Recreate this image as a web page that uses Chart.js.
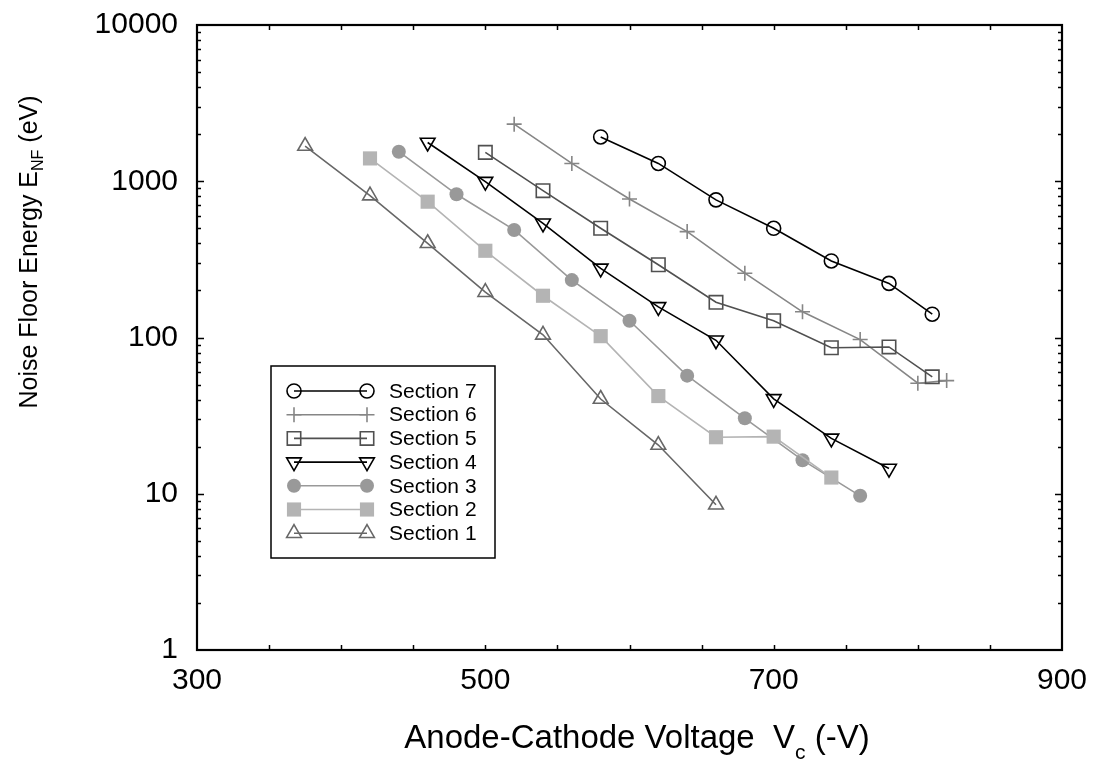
<!DOCTYPE html>
<html>
<head>
<meta charset="utf-8">
<script src="https://cdn.jsdelivr.net/npm/chart.js@4/dist/chart.umd.min.js"></script>
<style>
  html, body { margin: 0; padding: 0; background: #fff; }
  canvas { display: block; }
</style>
</head>
<body>
<canvas id="noiseChart" width="1096" height="771"></canvas>
<script>
// values (voltage in -V, energy in eV)
const sectionNames = ['Section 7', 'Section 6', 'Section 5', 'Section 4', 'Section 3', 'Section 2', 'Section 1'];

const s7Volt = [580, 620, 660, 700, 740, 780, 810];
const s7Energy = [1920, 1300, 760, 500, 309, 222, 141];

const s6Volt = [520, 560, 600, 640, 680, 720, 760, 800, 820];
const s6Energy = [2320, 1300, 770, 476, 258, 146, 97, 51, 53];

const s5Volt = [500, 540, 580, 620, 660, 700, 740, 780, 810];
const s5Energy = [1530, 870, 500, 292, 168, 128, 86, 87, 56];

const s4Volt = [460, 500, 540, 580, 620, 660, 700, 740, 780];
const s4Energy = [1770, 995, 538, 277, 157, 96, 40.5, 22.6, 14.5];

const s3Volt = [440, 480, 520, 560, 600, 640, 680, 720, 760];
const s3Energy = [1545, 825, 488, 233, 128, 57, 30.4, 16.4, 9.7];

const s2Volt = [420, 460, 500, 540, 580, 620, 660, 700, 740];
const s2Energy = [1400, 740, 359, 185, 102, 42.2, 23, 23.2, 12.7];

const s1Volt = [375, 420, 460, 500, 540, 580, 620, 660];
const s1Energy = [1680, 809, 401, 195, 104, 40.4, 20.5, 8.5];

const xTickLabels = [300, 500, 700, 900];
const yTickLabels = [1, 10, 100, 1000, 10000];

const FONT = 'Liberation Sans, Arial, Helvetica, sans-serif';

function pts(xs, ys) {
    return xs.map((x, i) => ({ x: x, y: ys[i] }));
}

function makeSet(label, xs, ys, color, style, radius, filled, rotation) {
    return {
        label: label,
        data: pts(xs, ys),
        borderColor: color,
        backgroundColor: filled ? color : 'rgba(0,0,0,0)',
        pointBorderColor: color,
        pointBackgroundColor: filled ? color : 'rgba(0,0,0,0)',
        pointStyle: style,
        pointRadius: radius,
        pointHoverRadius: radius,
        pointRotation: rotation || 0,
        pointBorderWidth: filled ? 0 : 1.6,
        borderWidth: 1.6,
        tension: 0,
        fill: false
    };
}

const datasets = [
    makeSet(sectionNames[6], s1Volt, s1Energy, '#676767', 'triangle', 8.5, false),
    makeSet(sectionNames[5], s2Volt, s2Energy, '#b4b4b4', 'rect', 10, true),
    makeSet(sectionNames[4], s3Volt, s3Energy, '#999999', 'circle', 7, true),
    makeSet(sectionNames[3], s4Volt, s4Energy, '#000000', 'triangle', 8.5, false, 180),
    makeSet(sectionNames[2], s5Volt, s5Energy, '#505050', 'rect', 9.5, false),
    makeSet(sectionNames[1], s6Volt, s6Energy, '#868686', 'cross', 7.5, false),
    makeSet(sectionNames[0], s7Volt, s7Energy, '#000000', 'circle', 7, false)
];

function drawMarker(ctx, ds, x, y) {
    const opts = {
        pointStyle: ds.pointStyle,
        radius: ds.pointRadius,
        rotation: ds.pointRotation,
        borderWidth: ds.pointBorderWidth
    };
    ctx.save();
    ctx.strokeStyle = ds.pointBorderColor;
    ctx.fillStyle = ds.pointBackgroundColor;
    ctx.lineWidth = ds.pointBorderWidth;
    Chart.helpers.drawPoint(ctx, opts, x, y);
    ctx.restore();
}

// draws text pieces in a row; [text, font, dy]
function drawParts(ctx, parts, startX, baseY) {
    let cx = startX;
    parts.forEach(p => {
        ctx.font = p[1];
        ctx.fillText(p[0], cx, baseY + p[2]);
        cx += ctx.measureText(p[0]).width;
    });
}

function partsWidth(ctx, parts) {
    let total = 0;
    parts.forEach(p => { ctx.font = p[1]; total += ctx.measureText(p[0]).width; });
    return total;
}

// frame, inward ticks, axis titles and legend box
const framePlugin = {
    id: 'framePlugin',
    afterDraw(chart) {
        const ctx = chart.ctx;
        const a = chart.chartArea;
        const xs = chart.scales.x;
        const ys = chart.scales.y;
        ctx.save();
        ctx.strokeStyle = '#000';
        ctx.lineWidth = 1.5;
        // tick marks
        ctx.beginPath();
        for (let v = 350; v < 900; v += 50) {
            const px = Math.round(xs.getPixelForValue(v)) + 0.5;
            ctx.moveTo(px, a.bottom); ctx.lineTo(px, a.bottom - 5);
            ctx.moveTo(px, a.top); ctx.lineTo(px, a.top + 5);
        }
        for (let d = 1; d < 10000; d *= 10) {
            for (let m = 1; m < 10; m++) {
                const v = d * m;
                if (v === 1) continue;
                const py = Math.round(ys.getPixelForValue(v)) + 0.5;
                const len = m === 1 ? 7 : 4;
                ctx.moveTo(a.left, py); ctx.lineTo(a.left + len, py);
                ctx.moveTo(a.right, py); ctx.lineTo(a.right - len, py);
            }
        }
        ctx.stroke();
        ctx.lineWidth = 2.2;
        ctx.strokeRect(a.left, a.top, a.right - a.left, a.bottom - a.top);

        // y title with subscript
        ctx.fillStyle = '#000';
        ctx.textBaseline = 'alphabetic';
        ctx.save();
        ctx.translate(37, 252);
        ctx.rotate(-Math.PI / 2);
        const yParts = [['Noise Floor Energy E', '25px ' + FONT, 0], ['NF', '16px ' + FONT, 6], [' (eV)', '25px ' + FONT, 0]];
        drawParts(ctx, yParts, -partsWidth(ctx, yParts) / 2, 0);
        ctx.restore();

        // x title with subscript
        const xParts = [['Anode-Cathode Voltage  V', '33px ' + FONT, 0], ['c', '21px ' + FONT, 11], [' (-V)', '33px ' + FONT, 0]];
        drawParts(ctx, xParts, 637 - partsWidth(ctx, xParts) / 2, 748);

        // legend
        ctx.lineWidth = 1.5;
        ctx.strokeStyle = '#000';
        ctx.fillStyle = '#fff';
        ctx.fillRect(271, 366, 224, 192);
        ctx.strokeRect(271, 366, 224, 192);
        const ordered = datasets.slice().reverse();
        ordered.forEach((ds, i) => {
            const ry = 391 + i * 23.7;
            ctx.save();
            ctx.strokeStyle = ds.borderColor;
            ctx.lineWidth = ds.borderWidth;
            ctx.beginPath();
            ctx.moveTo(294, ry); ctx.lineTo(367, ry);
            ctx.stroke();
            ctx.restore();
            drawMarker(ctx, ds, 294, ry);
            drawMarker(ctx, ds, 367, ry);
            ctx.fillStyle = '#000';
            ctx.font = '21px ' + FONT;
            ctx.textBaseline = 'middle';
            ctx.fillText(ds.label, 389, ry + 1);
        });
        ctx.restore();
    }
};

const ctx = document.getElementById('noiseChart').getContext('2d');
new Chart(ctx, {
    type: 'line',
    data: { datasets: datasets },
    options: {
        responsive: false,
        animation: false,
        devicePixelRatio: 1,
        layout: { padding: { left: 0, top: 25, right: 34, bottom: 0 } },
        plugins: {
            legend: { display: false },
            tooltip: { enabled: false },
            title: { display: false }
        },
        scales: {
            x: {
                type: 'linear',
                min: 300,
                max: 900,
                grid: { display: false },
                border: { display: false },
                afterBuildTicks: scale => { scale.ticks = xTickLabels.map(v => ({ value: v })); },
                afterFit: scale => {
                    scale.height = 121;
                    scale.paddingLeft = 0;
                    scale.paddingRight = 0;
                },
                ticks: {
                    color: '#000',
                    padding: 5,
                    maxRotation: 0,
                    font: { family: FONT, size: 30 },
                    callback: v => String(v)
                }
            },
            y: {
                type: 'logarithmic',
                min: 1,
                max: 10000,
                grid: { display: false },
                border: { display: false },
                afterBuildTicks: scale => { scale.ticks = yTickLabels.map(v => ({ value: v })); },
                afterFit: scale => {
                    scale.width = 197;
                    scale.paddingTop = 0;
                    scale.paddingBottom = 0;
                },
                ticks: {
                    color: '#000',
                    padding: 11,
                    font: { family: FONT, size: 30 },
                    callback: v => String(v)
                }
            }
        }
    },
    plugins: [framePlugin]
});
</script>
</body>
</html>
